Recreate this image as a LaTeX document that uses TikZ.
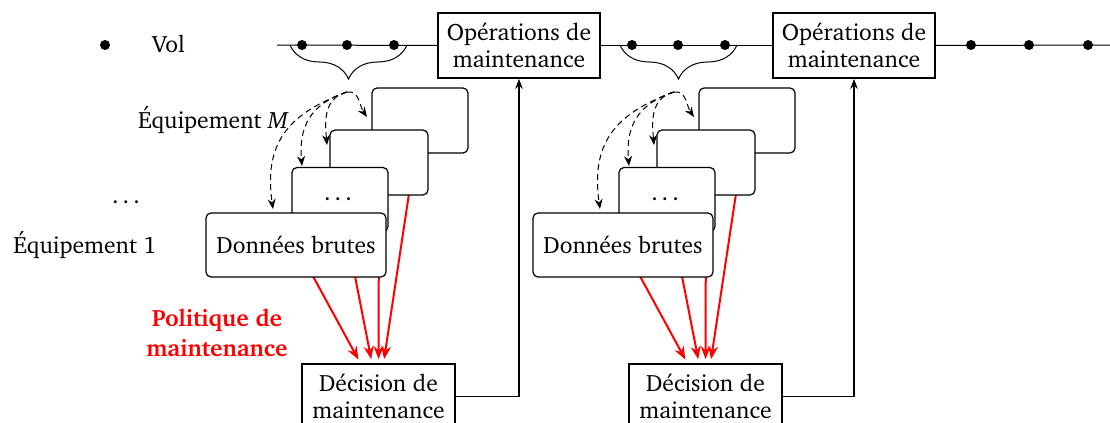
\documentclass[tikz,border=0pt]{standalone}
\usepackage[T1]{fontenc}
\usepackage{charter}
\usetikzlibrary{arrows.meta,decorations.pathreplacing,calc}
\begin{document}
\begin{tikzpicture}[x=0.5pt,y=0.5pt,
  font=\fontsize{11.8}{13.6}\selectfont,
  sqbox/.style={draw,line width=0.9pt,align=center,inner sep=0pt,minimum width=#1,minimum height=32.5pt,fill=white},
  eqbox/.style={draw,line width=0.6pt,rounded corners=2.5pt,align=center,inner sep=0pt,minimum width=#1,minimum height=32.5pt,fill=white},
  dot/.style={circle,fill=black,inner sep=0pt,minimum size=5pt},
  tline/.style={line width=0.5pt},
  redarr/.style={red,line width=1pt,-{Stealth[length=6.5pt,width=5pt]},shorten >=2pt},
  dasharr/.style={dash pattern=on 3pt off 2pt,line width=0.5pt,-{Stealth[length=5pt,width=4pt]}},
  blkarr/.style={line width=0.6pt,-{Stealth[length=5pt,width=3.8pt]}},
  bracestyle/.style={decorate,decoration={brace,mirror,amplitude=17pt},line width=0.5pt},
  lbl/.style={inner sep=0pt}
]
\useasboundingbox (0,0) rectangle (1110,-423);

% legend
\node[dot] (legdot) at (105,-45) {};
\node[lbl,anchor=base west] (legvol) at (152,-53) {Vol};

% operations boxes
\node[sqbox=81pt] (op1) at (519,-45.5) {Opérations de\\maintenance};
\node[sqbox=81pt] (op2) at (854,-45.5) {Opérations de\\maintenance};

% timeline
\coordinate (tstart) at (277,-45);
\coordinate (tend) at (1110,-45);
\draw[tline] (tstart) -- (op1.west);
\draw[tline] (op1.east) -- (op2.west);
\draw[tline] (op2.east) -- (tend);
\foreach \x [count=\k] in {302,347,394,632,678,725,971,1029,1088}
  \node[dot] (d\k) at (\x,-45) {};

% braces
\coordinate (br1a) at (290,-45); \coordinate (br1b) at (407,-45);
\coordinate (br2a) at (620,-45); \coordinate (br2b) at (737,-45);
\draw[bracestyle] (br1a) -- (br1b);
\draw[bracestyle] (br2a) -- (br2b);

% panels
\foreach \d/\i in {0/1,327/2}{
  \coordinate (cM\i) at (420+\d,-120.5);
  \coordinate (c2\i) at (379+\d,-162.5);
  \coordinate (c3\i) at (340+\d,-199.5);
  \coordinate (cD\i) at (296+\d,-245);
  \node[sqbox=76.5pt] (dec\i) at (378.5+\d,-396.5) {Décision de\\maintenance};
  % red arrows (behind boxes)
  \draw[redarr] (cM\i) -- (dec\i);
  \draw[redarr] (c2\i) -- (dec\i);
  \draw[redarr] (c3\i) -- (dec\i);
  \draw[redarr] (cD\i) -- (dec\i);
  % equipment boxes
  \node[eqbox=48pt] (bM\i) at (cM\i) {};
  \node[eqbox=49pt] (b2\i) at (c2\i) {};
  \node[eqbox=48pt,minimum height=32pt] (b3\i) at (c3\i) {\dots};
  \node[eqbox=90pt,minimum height=32pt] (bD\i) at (cD\i) {Données brutes};
  % dashed arrows
  \coordinate (s\i) at (347+\d,-92);
  \coordinate (e1\i) at (367+\d,-117);
  \coordinate (e2\i) at (327+\d,-145);
  \coordinate (e3\i) at (302+\d,-166);
  \coordinate (e4\i) at (273+\d,-209);
  \draw[dasharr] (s\i) to[out=10,in=125] (e1\i);
  \draw[dasharr] (s\i) to[out=195,in=95,looseness=1.1] (e2\i);
  \draw[dasharr] (s\i) to[out=198,in=95,looseness=1.15] (e3\i);
  \draw[dasharr] (s\i) to[out=200,in=98,looseness=1.2] (e4\i);
}
\draw[blkarr] (dec1.east) -| (op1.south);
\draw[blkarr] (dec2.east) -| (op2.south);

% labels
\node[lbl,anchor=base east] (lblM) at (289,-128) {Équipement \textit{M}};
\node[lbl,anchor=base] (lbldots) at (128,-203) {\dots};
\node[lbl,anchor=base west] (lbl1) at (13,-253) {Équipement 1};
\node[lbl,align=center,text=red,font=\fontsize{11.8}{15}\selectfont\bfseries] (pol) at (217,-333) {Politique de\\maintenance};
\end{tikzpicture}
\end{document}
